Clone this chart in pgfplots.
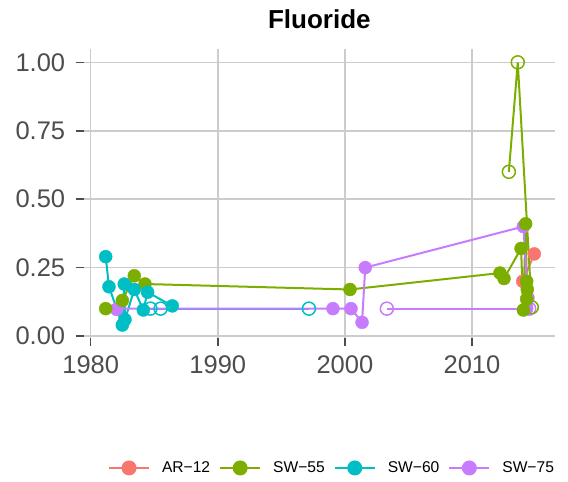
\documentclass[border=0pt]{standalone}
\usepackage{pgfplots}
\pgfplotsset{compat=1.18}
\usepackage{fontspec}
\setmainfont{Liberation Sans}
\definecolor{cAR}{HTML}{F8766D}
\definecolor{cSWa}{HTML}{7CAE00}
\definecolor{cSWb}{HTML}{00BFC4}
\definecolor{cSWc}{HTML}{C77CFF}
\definecolor{gridc}{HTML}{CCCCCC}
\definecolor{tickc}{HTML}{4D4D4D}
\begin{document}
\begin{tikzpicture}[x=1pt,y=1pt]
\useasboundingbox (0,0) rectangle (568,482);
\begin{axis}[
  at={(83.7pt,143.8pt)}, anchor=south west,
  scale only axis, width=471.3pt, height=289pt,
  xmin=1979.45, xmax=2016.53, ymin=-0.008, ymax=1.048,
  axis line style={draw=none},
  xtick={1980,1990,2000,2010}, xticklabels={1980,1990,2000,2010},
  ytick={0,0.25,0.5,0.75,1}, yticklabels={0.00,0.25,0.50,0.75,1.00},
  xtick pos=left, ytick pos=left,
  grid=major, major grid style={gridc, line width=1.5pt},
  tick align=outside, major tick length=8pt,
  tick style={tickc, line width=1.5pt},
  /pgf/number format/assume math mode=true,
  ticklabel style={font=\fontsize{25.5}{30}\selectfont, text=tickc},
  xticklabel style={yshift=-6pt},
  yticklabel style={xshift=-7pt},
  title={Fluoride},
  title style={font=\bfseries\fontsize{26}{30}\selectfont, at={(0.5,1)}, anchor=base, yshift=15pt},
  legend columns=4,
  legend style={draw=none, fill=none, font=\fontsize{15.6}{18}\selectfont,
    at={(0.5247,-0.449)}, anchor=center,
    nodes={inner sep=0pt},
    /tikz/every odd column/.append style={column sep=12pt},
    /tikz/every even column/.append style={column sep=9pt}},
  legend image code/.code={\draw[mark repeat=2,mark phase=2,#1] plot coordinates {(0pt,0pt) (20pt,0pt) (40pt,0pt)};},
]
% ---------- lines ----------
\addplot[cAR, line width=2pt, forget plot] table {
2013.99 0.20
2014.90 0.30
};
\addplot[cSWa, line width=2pt, forget plot] table {
1981.18 0.10
1982.49 0.13
1983.43 0.22
1984.27 0.19
2000.40 0.17
2012.20 0.23
2012.52 0.21
2013.86 0.32
2014.04 0.095
2014.22 0.41
2014.30 0.20
2014.35 0.17
2014.30 0.135
};
\addplot[cSWa, line width=2pt, forget plot] table {
2012.90 0.60
2013.60 1.00
2014.70 0.105
};
\addplot[cSWb, line width=2pt, forget plot] table {
1981.18 0.29
1981.44 0.18
1982.49 0.04
1982.64 0.19
1982.70 0.06
1983.43 0.17
1984.14 0.095
1984.48 0.16
1986.42 0.11
};
\addplot[cSWb, line width=2pt, forget plot] table {
1984.70 0.10
1985.50 0.10
1997.17 0.10
};
\addplot[cSWc, line width=2pt, forget plot] table {
1982.05 0.10
1999.06 0.10
2000.48 0.10
2001.35 0.05
2001.60 0.25
2014.04 0.40
2014.40 0.14
2014.30 0.10
};
\addplot[cSWc, line width=2pt, forget plot] table {
2003.30 0.10
2014.50 0.10
};
% ---------- points ----------
\addplot[cAR, only marks, mark=*, mark size=6.5pt, forget plot] table {
2013.99 0.20
2014.90 0.30
};
\addplot[cSWc, only marks, mark=*, mark size=6.5pt, forget plot] table {
1982.05 0.097
1999.06 0.10
2000.48 0.10
2001.35 0.05
2001.60 0.25
2014.04 0.40
2014.40 0.14
2014.30 0.10
};
\addplot[cSWc, only marks, mark=o, mark size=6.5pt, mark options={line width=1.5pt, fill=none}, forget plot] table {
2003.30 0.10
2014.50 0.10
};
\addplot[cSWa, only marks, mark=*, mark size=6.5pt, forget plot] table {
1981.18 0.10
1982.49 0.13
1983.43 0.22
1984.27 0.19
2000.40 0.17
2012.20 0.23
2012.52 0.21
2013.86 0.32
2014.04 0.095
2014.22 0.41
2014.30 0.20
2014.35 0.17
2014.30 0.135
};
\addplot[cSWa, only marks, mark=o, mark size=6.5pt, mark options={line width=1.5pt, fill=none}, forget plot] table {
2012.90 0.60
2013.60 1.00
2014.70 0.105
};
\addplot[cSWb, only marks, mark=*, mark size=6.5pt, forget plot] table {
1981.18 0.29
1981.44 0.18
1982.49 0.04
1982.64 0.19
1982.70 0.06
1983.43 0.17
1984.14 0.095
1984.48 0.16
1986.42 0.11
};
\addplot[cSWb, only marks, mark=o, mark size=6.5pt, mark options={line width=1.5pt, fill=none}, forget plot] table {
1984.70 0.10
1985.50 0.10
1997.17 0.10
};
% ---------- legend ----------
\addlegendimage{cAR, line width=2pt, mark=*, mark size=6.5pt}
\addlegendentry{AR−12}
\addlegendimage{cSWa, line width=2pt, mark=*, mark size=6.5pt}
\addlegendentry{SW−55}
\addlegendimage{cSWb, line width=2pt, mark=*, mark size=6.5pt}
\addlegendentry{SW−60}
\addlegendimage{cSWc, line width=2pt, mark=*, mark size=6.5pt}
\addlegendentry{SW−75}
\end{axis}
\end{tikzpicture}
\end{document}
